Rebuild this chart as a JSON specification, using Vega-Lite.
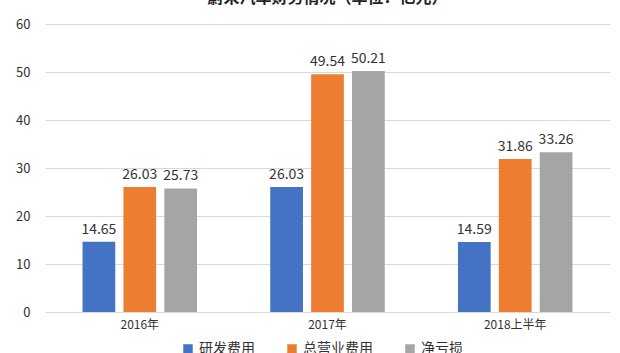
{
  "$schema": "https://vega.github.io/schema/vega-lite/v6.json",
  "width": 565,
  "height": 288,
  "autosize": {"type": "none"},
  "padding": {"left": 45, "top": 24, "right": 10, "bottom": 41},
  "background": "white",
  "title": {"text": "蔚来汽车财务情况（单位：亿元）", "fontSize": 16, "font": "Noto Sans CJK SC", "fontWeight": "bold", "color": "#222222", "anchor": "middle", "offset": 12},
  "config": {
    "font": "Noto Sans CJK SC",
    "view": {"stroke": null}
  },
  "data": {
    "values": [
      {"period": "2016年", "item": "研发费用", "value": 14.65},
      {"period": "2016年", "item": "总营业费用", "value": 26.03},
      {"period": "2016年", "item": "净亏损", "value": 25.73},
      {"period": "2017年", "item": "研发费用", "value": 26.03},
      {"period": "2017年", "item": "总营业费用", "value": 49.54},
      {"period": "2017年", "item": "净亏损", "value": 50.21},
      {"period": "2018上半年", "item": "研发费用", "value": 14.59},
      {"period": "2018上半年", "item": "总营业费用", "value": 31.86},
      {"period": "2018上半年", "item": "净亏损", "value": 33.26}
    ]
  },
  "encoding": {
    "x": {"field": "period", "type": "nominal", "sort": null, "title": null,
      "scale": {"paddingInner": 0.39, "paddingOuter": 0.2},
      "axis": {"labelAngle": 0, "labelFontSize": 12, "labelColor": "#333333", "ticks": false, "domain": false, "labelPadding": 7}},
    "xOffset": {"field": "item", "type": "nominal", "sort": ["研发费用", "总营业费用", "净亏损"], "scale": {"paddingInner": 0.2}},
    "y": {"field": "value", "type": "quantitative", "title": null,
      "scale": {"domain": [0, 60]},
      "axis": {"values": [0, 10, 20, 30, 40, 50, 60], "labelOverlap": false, "labelFontSize": 13, "labelColor": "#333333", "ticks": false, "domain": false, "gridColor": "#d9d9d9", "labelPadding": 15}}
  },
  "layer": [
    {
      "mark": {"type": "bar"},
      "encoding": {
        "color": {"field": "item", "type": "nominal", "sort": ["研发费用", "总营业费用", "净亏损"],
          "scale": {"domain": ["研发费用", "总营业费用", "净亏损"], "range": ["#4472C4", "#ED7D31", "#A5A5A5"]},
          "legend": {"orient": "none", "legendX": 136, "legendY": 318, "direction": "horizontal", "title": null, "symbolType": "square", "symbolSize": 90, "labelFontSize": 14, "labelColor": "#333333", "columnPadding": 30}}
      }
    },
    {
      "mark": {"type": "text", "dy": -12, "fontSize": 14, "color": "#333333"},
      "encoding": {"text": {"field": "value", "type": "quantitative", "format": ".2f"}}
    }
  ]
}
